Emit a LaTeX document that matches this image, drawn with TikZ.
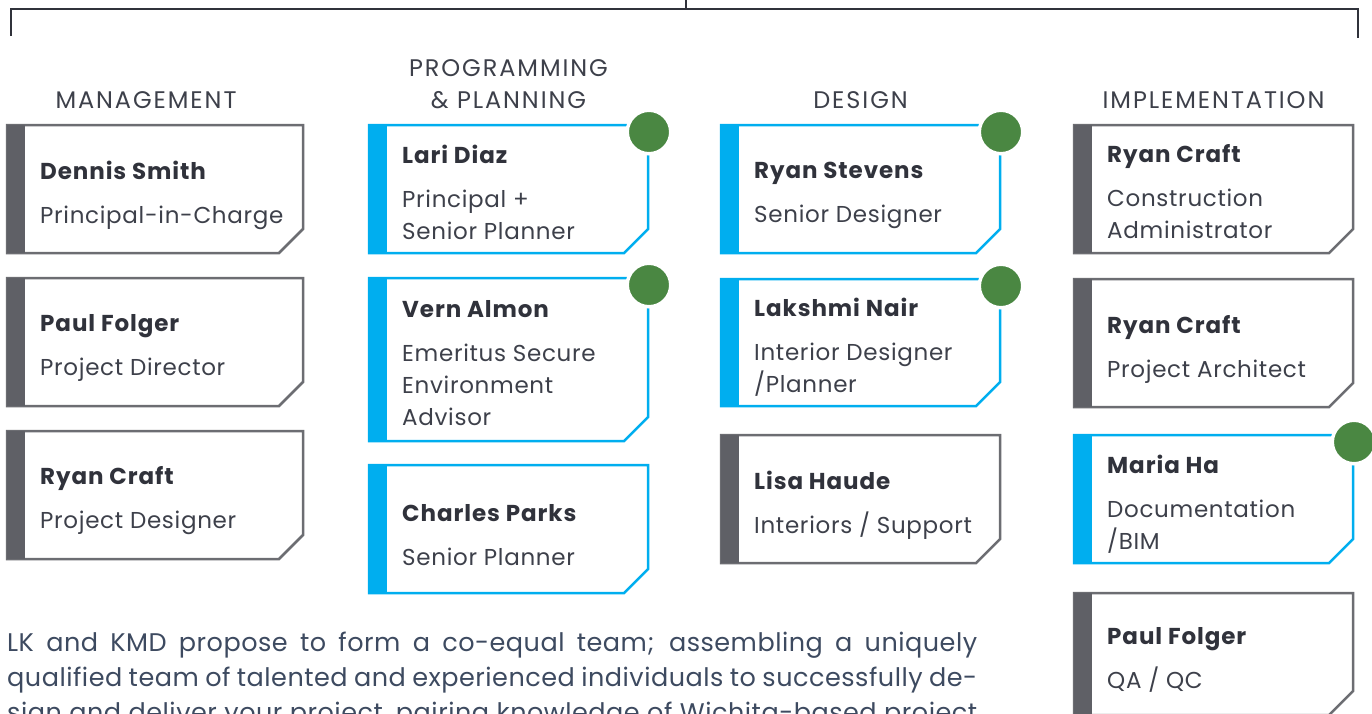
\documentclass[tikz,border=0pt]{standalone}
\usepackage{fontspec}
\setmainfont{Poppins}
\usetikzlibrary{positioning}
\definecolor{inkdark}{HTML}{30323B}
\definecolor{inkrole}{HTML}{3D404A}
\definecolor{inkbody}{HTML}{3D4A60}
\definecolor{slate}{HTML}{5F6066}
\definecolor{slateline}{HTML}{6C6D72}
\definecolor{cyanblue}{HTML}{00AEEF}
\definecolor{leaf}{HTML}{4A8742}
\newcommand{\who}[1]{{\bfseries\color{inkdark}\addfontfeatures{LetterSpace=4}#1}\\[12pt]}
\tikzstyle{card} = [rectangle, minimum width=279pt, minimum height=128pt, inner sep=0pt, outer sep=0pt]
\tikzstyle{wide} = [minimum width=296pt]
\tikzstyle{cardtext} = [anchor=west, inner sep=0pt, align=left, text=inkrole, font=\fontsize{23}{32}\selectfont\addfontfeatures{LetterSpace=3}]
\tikzstyle{head} = [inner sep=0pt, align=center, text=inkrole, font=\fontsize{24}{32}\selectfont\addfontfeatures{LetterSpace=8}]
\tikzstyle{bracket} = [line width=2.5pt, draw=inkdark]
\tikzstyle{dot} = [draw=white, line width=3.5pt, fill=leaf]
\begin{document}
\begin{tikzpicture}[x=1pt, y=-1pt, node distance=25pt]
		\useasboundingbox (0,0) rectangle (1372,713);

		% Bracket
		\coordinate (stem) at (686,0);
		\coordinate (join) at (686,9);
		\coordinate (leftfoot) at (11,36);
		\coordinate (rightfoot) at (1358,38);
		\draw [bracket] (stem) -- (join);
		\draw [bracket] (leftfoot) |- (join) -| (rightfoot);

		% Cards
		\node (smith) [card, wide, anchor=north west] at (7,125) {};
		\node (folger) [card, wide, below=of smith] {};
		\node (craftpd) [card, wide, below=of folger] {};

		\node (diaz) [card, anchor=north west] at (369,125) {};
		\node (almon) [card, minimum height=163pt, below=of diaz] {};
		\node (parks) [card, below=24pt of almon] {};

		\node (stevens) [card, anchor=north west] at (721,125) {};
		\node (nair) [card, minimum height=127pt, below=26pt of stevens] {};
		\node (haude) [card, below=29pt of nair] {};

		\node (craftca) [card, anchor=north west] at (1074,125) {};
		\node (craftpa) [card, below=26pt of craftca] {};
		\node (ha) [card, below=28pt of craftpa] {};
		\node (folgerqa) [card, minimum height=122pt, below=30pt of ha] {};

		% Outlines
		\foreach \c/\col/\bar in {smith/slateline/slate, folger/slateline/slate, craftpd/slateline/slate,
				diaz/cyanblue/cyanblue, almon/cyanblue/cyanblue, parks/cyanblue/cyanblue,
				stevens/cyanblue/cyanblue, nair/cyanblue/cyanblue, haude/slateline/slate,
				craftca/slateline/slate, craftpa/slateline/slate, ha/cyanblue/cyanblue, folgerqa/slateline/slate} {
			\draw [\col, line width=2.5pt] (\c.north west) -- (\c.north east) -- ([yshift=24pt]\c.south east)
				-- ([xshift=-24pt]\c.south east) -- (\c.south west) -- cycle;
			\fill [\bar] (\c.north west) rectangle ([xshift=18pt]\c.south west);
		}
		\foreach \c in {diaz, almon, stevens, nair, ha}
			\draw [dot] ([xshift=1pt, yshift=-7pt]\c.north east) circle (21.75pt);

		% Headings
		\node [head, above=16pt of smith, xshift=-9pt] {MANAGEMENT};
		\node [head, above=16pt of diaz] {PROGRAMMING\\\& PLANNING};
		\node [head, above=16pt of stevens] {DESIGN};
		\node [head, above=16pt of craftca] {IMPLEMENTATION};

		% Names and roles
		\node [cardtext] at ([xshift=33pt, yshift=-6pt]smith.west) {\who{Dennis Smith}Principal-in-Charge};
		\node [cardtext] at ([xshift=33pt, yshift=-6pt]folger.west) {\who{Paul Folger}Project Director};
		\node [cardtext] at ([xshift=33pt, yshift=-6pt]craftpd.west) {\who{Ryan Craft}Project Designer};

		\node [cardtext] at ([xshift=33pt, yshift=-3pt]diaz.west) {\who{Lari Diaz}Principal +\\Senior Planner};
		\node [cardtext] at ([xshift=33pt, yshift=-4pt]almon.west) {\who{Vern Almon}Emeritus Secure\\Environment\\Advisor};
		\node [cardtext] at ([xshift=33pt, yshift=-6pt]parks.west) {\who{Charles Parks}Senior Planner};

		\node [cardtext] at ([xshift=33pt, yshift=-6pt]stevens.west) {\who{Ryan Stevens}Senior Designer};
		\node [cardtext] at ([xshift=33pt, yshift=-5pt]nair.west) {\who{Lakshmi Nair}Interior Designer\\/Planner};
		\node [cardtext] at ([xshift=33pt, yshift=-6pt]haude.west) {\who{Lisa Haude}Interiors / Support};

		\node [cardtext] at ([xshift=33pt, yshift=-3pt]craftca.west) {\who{Ryan Craft}Construction\\Administrator};
		\node [cardtext] at ([xshift=33pt, yshift=-6pt]craftpa.west) {\who{Ryan Craft}Project Architect};
		\node [cardtext] at ([xshift=33pt, yshift=-5pt]ha.west) {\who{Maria Ha}Documentation\\/BIM};
		\node [cardtext] at ([xshift=33pt, yshift=-6pt]folgerqa.west) {\who{Paul Folger}QA / QC};

		% Intro text
		\node (intro) [anchor=north west, inner sep=0pt, align=left, text=inkbody, font=\fontsize{25.5}{35}\selectfont\addfontfeatures{LetterSpace=2}] at (7,632)
			{\makebox[970pt][s]{LK and KMD propose to form a co-equal team; assembling a uniquely}\\
			 \makebox[970pt][s]{qualified team of talented and experienced individuals to successfully de-}\\
			 \makebox[970pt][s]{sign and deliver your project, pairing knowledge of Wichita-based project}};
	\end{tikzpicture}
\end{document}
